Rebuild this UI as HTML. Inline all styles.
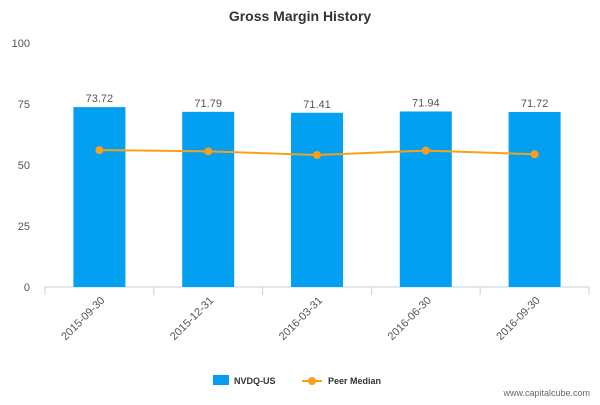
<!DOCTYPE html>
<html><head><meta charset="utf-8"><style>
body{margin:0;background:#fff;}
svg{font-family:"Liberation Sans","DejaVu Sans",sans-serif;}
</style></head><body>
<svg id="c" width="600" height="400">
<text x="300" y="21" text-anchor="middle" font-size="14" font-weight="bold" fill="#333">Gross Margin History</text>
<g id="axes"></g><g id="bars"></g><g id="line"></g>
<g>
<rect x="213" y="375" width="16" height="10" fill="#039ff0"/>
<text x="234" y="384" font-size="9" font-weight="bold" fill="#333">NVDQ-US</text>
<line x1="302" y1="381" x2="322" y2="381" stroke="#f8a01b" stroke-width="2"/>
<circle cx="312" cy="381" r="4" fill="#f8a01b"/>
<text x="328" y="384" font-size="9" font-weight="bold" fill="#333">Peer Median</text>
</g>
<text x="590" y="396" text-anchor="end" font-size="9" fill="#666">www.capitalcube.com</text>
</svg>
<script>
const categories=["2015-09-30","2015-12-31","2016-03-31","2016-06-30","2016-09-30"];
const companyValues=[73.72,71.79,71.41,71.94,71.72];
const peerValues=[56.1,55.6,54.1,55.9,54.4];
const yTicks=[0,25,50,75,100];
const NS="http://www.w3.org/2000/svg";
const x0=45,x1=589,yb=287,yt=43;
const band=(x1-x0)/categories.length;
const xc=i=>x0+band*(i+0.5);
const y=v=>yb-(v/100)*(yb-yt);
function mk(tag,attrs,parent,text){const e=document.createElementNS(NS,tag);for(const k in attrs)e.setAttribute(k,attrs[k]);if(text!==undefined)e.textContent=text;document.getElementById(parent).appendChild(e);return e;}
yTicks.forEach(t=>{
const e=mk("text",{x:30,y:y(t)+4,"text-anchor":"end","font-size":"11",fill:"#555"},"axes",t);


});
const ax=mk("line",{x1:x0,y1:yb,x2:x1,y2:yb,stroke:"#c0d0e0"},"axes");


for(let i=0;i<=categories.length;i++){
const tk=mk("line",{x1:x0+band*i,y1:yb,x2:x0+band*i,y2:yb+8,stroke:"#c0d0e0"},"axes");


}
categories.forEach((c,i)=>{
const px=xc(i)+6,py=yb+14;
const e=mk("text",{x:px,y:py,"text-anchor":"end","font-size":"11",fill:"#555",transform:`rotate(-45 ${px} ${py})`},"axes",c);


});
companyValues.forEach((v,i)=>{
const b=mk("rect",{x:xc(i)-26,y:y(v),width:52,height:yb-y(v),fill:"#039ff0"},"bars");


const l=mk("text",{x:xc(i),y:y(v)-5,"text-anchor":"middle","font-size":"11",fill:"#555"},"bars",v.toFixed(2));


});
let d="";
peerValues.forEach((v,i)=>{d+=(i?"L":"M")+xc(i)+" "+y(v);});
const p=mk("path",{d:d,fill:"none",stroke:"#f8a01b","stroke-width":2},"line");


peerValues.forEach((v,i)=>{
const c=mk("circle",{cx:xc(i),cy:y(v),r:4,fill:"#f8a01b"},"line");


});
</script>
</body></html>
